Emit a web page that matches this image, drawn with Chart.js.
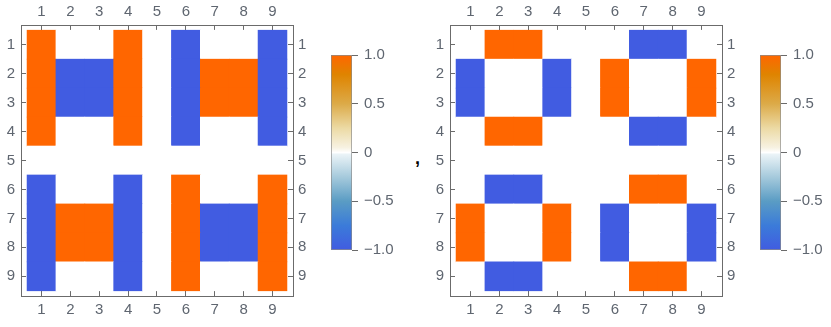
<!DOCTYPE html>
<html>
<head>
<meta charset="utf-8">
<script src="https://cdn.jsdelivr.net/npm/chart.js@4.4.1/dist/chart.umd.min.js"></script>
<style>
  html, body { margin: 0; padding: 0; background: #fff; }
  body { width: 831px; height: 327px; position: relative; overflow: hidden; }
  canvas { position: absolute; top: 0; }
  #comma { position: absolute; left: 415px; top: 148px; font: bold 18px "Liberation Sans", Arial, sans-serif; color: #000; }
</style>
</head>
<body>
<canvas id="matrixLeft" width="315" height="327" style="left:0"></canvas>
<canvas id="barLeft" width="100" height="327" style="left:315px"></canvas>
<div id="comma">,</div>
<canvas id="matrixRight" width="315" height="327" style="left:429px"></canvas>
<canvas id="barRight" width="87" height="327" style="left:744px"></canvas>

<script>
// Row / column labels of both matrices
const rowLabels = [1, 2, 3, 4, 5, 6, 7, 8, 9];
const colLabels = [1, 2, 3, 4, 5, 6, 7, 8, 9];

// Left matrix (1 = orange, -1 = blue, 0 = empty)
const matrixLeftValues = [
    [ 1,  0,  0,  1, 0, -1,  0,  0, -1],
    [ 1, -1, -1,  1, 0, -1,  1,  1, -1],
    [ 1, -1, -1,  1, 0, -1,  1,  1, -1],
    [ 1,  0,  0,  1, 0, -1,  0,  0, -1],
    [ 0,  0,  0,  0, 0,  0,  0,  0,  0],
    [-1,  0,  0, -1, 0,  1,  0,  0,  1],
    [-1,  1,  1, -1, 0,  1, -1, -1,  1],
    [-1,  1,  1, -1, 0,  1, -1, -1,  1],
    [-1,  0,  0, -1, 0,  1,  0,  0,  1]
];

// Right matrix
const matrixRightValues = [
    [ 0,  1,  1,  0, 0,  0, -1, -1,  0],
    [-1,  0,  0, -1, 0,  1,  0,  0,  1],
    [-1,  0,  0, -1, 0,  1,  0,  0,  1],
    [ 0,  1,  1,  0, 0,  0, -1, -1,  0],
    [ 0,  0,  0,  0, 0,  0,  0,  0,  0],
    [ 0, -1, -1,  0, 0,  0,  1,  1,  0],
    [ 1,  0,  0,  1, 0, -1,  0,  0, -1],
    [ 1,  0,  0,  1, 0, -1,  0,  0, -1],
    [ 0, -1, -1,  0, 0,  0,  1,  1,  0]
];

// Legend bar ticks
const legendTicks = [-1, -0.5, 0, 0.5, 1];
const legendTickLabels = ['\u22121.0', '\u22120.5', '0', '0.5', '1.0'];

// Colour function stops: value -> colour
const colorStopValues = [-1, -0.75, -0.5, -0.25, -0.02, 0, 0.05, 0.25, 0.5, 0.8, 1];
const colorStopColors = ['#415ce1', '#3b7bd9', '#5a9cc4', '#a6cadc', '#eaf3f7', '#ffffff',
                         '#f7f2e2', '#ecdaa4', '#dcaa48', '#df8400', '#ff6600'];

const FONT = '"Liberation Sans", Arial, sans-serif';
const FRAME = '#6b6b6b';
const TEXT = '#5f6670';

function hexToRgb(h) {
    return [parseInt(h.substr(1, 2), 16), parseInt(h.substr(3, 2), 16), parseInt(h.substr(5, 2), 16)];
}

function colorAt(v) {
    if (v <= colorStopValues[0]) return colorStopColors[0];
    for (let i = 1; i < colorStopValues.length; i++) {
        if (v <= colorStopValues[i]) {
            const t = (v - colorStopValues[i - 1]) / (colorStopValues[i] - colorStopValues[i - 1]);
            const a = hexToRgb(colorStopColors[i - 1]);
            const b = hexToRgb(colorStopColors[i]);
            const c = a.map((x, k) => Math.round(x + (b[k] - x) * t));
            return `rgb(${c[0]},${c[1]},${c[2]})`;
        }
    }
    return colorStopColors[colorStopColors.length - 1];
}

function buildCells(matrix) {
    const cells = [];
    rowLabels.forEach((r, i) => {
        colLabels.forEach((c, j) => {
            cells.push({ x: c, y: [r - 0.5, r + 0.5], v: matrix[i][j] });
        });
    });
    return cells;
}

function frameAxis(position, labels, min, max, size, padding, reverse) {
    return {
        type: 'linear',
        position: position,
        min: min,
        max: max,
        offset: false,
        reverse: !!reverse,
        afterBuildTicks: scale => { scale.ticks = labels.map(v => ({ value: v })); },
        afterFit: scale => {
            if (position === 'top' || position === 'bottom') scale.height = size;
            else scale.width = size;
        },
        ticks: {
            color: TEXT,
            padding: padding,
            maxRotation: 0,
            autoSkip: false,
            font: { family: FONT, size: 15 },
            callback: v => String(v)
        },
        grid: {
            display: true,
            offset: false,
            drawOnChartArea: false,
            drawTicks: true,
            tickLength: -5,
            tickColor: FRAME,
            tickWidth: 1
        },
        border: { display: true, color: FRAME, width: 1 }
    };
}

function matrixChart(id, matrix) {
    const cells = buildCells(matrix);
    return new Chart(document.getElementById(id), {
        type: 'bar',
        data: {
            datasets: [{
                data: cells,
                backgroundColor: cells.map(c => colorAt(c.v)),
                borderWidth: 0,
                barPercentage: 1,
                categoryPercentage: 1,
                xAxisID: 'x',
                yAxisID: 'y'
            }]
        },
        options: {
            responsive: false,
            animation: false,
            layout: { padding: 0 },
            plugins: { legend: { display: false }, tooltip: { enabled: false } },
            scales: {
                x: frameAxis('bottom', colLabels, 0.29, 9.71, 31, 10),
                xTop: frameAxis('top', colLabels, 0.29, 9.71, 25, 9),
                y: frameAxis('left', rowLabels, 0.32, 9.68, 21, 11, true),
                yRight: frameAxis('right', rowLabels, 0.32, 9.68, 22, 10, true)
            }
        }
    });
}

function legendChart(id, canvasWidth) {
    return new Chart(document.getElementById(id), {
        type: 'bar',
        data: {
            labels: [''],
            datasets: [{
                data: [[legendTicks[0], legendTicks[legendTicks.length - 1]]],
                backgroundColor: ctx => {
                    const chart = ctx.chart;
                    const ys = chart.scales.y;
                    if (!ys || !chart.chartArea) return colorAt(0);
                    const g = chart.ctx.createLinearGradient(0, ys.getPixelForValue(-1), 0, ys.getPixelForValue(1));
                    colorStopValues.forEach((v, i) => g.addColorStop((v + 1) / 2, colorStopColors[i]));
                    return g;
                },
                borderColor: '#8c8c8c',
                borderWidth: 1,
                borderSkipped: false,
                barPercentage: 1,
                categoryPercentage: 1
            }]
        },
        options: {
            responsive: false,
            animation: false,
            layout: { padding: { left: 16, top: 55, bottom: 77, right: 0 } },
            plugins: { legend: { display: false }, tooltip: { enabled: false } },
            scales: {
                x: { display: false },
                y: {
                    position: 'right',
                    min: -1,
                    max: 1,
                    afterBuildTicks: scale => { scale.ticks = legendTicks.map(v => ({ value: v })); },
                    afterFit: scale => { scale.width = canvasWidth - 16 - 21; },
                    ticks: {
                        color: TEXT,
                        padding: 6,
                        font: { family: FONT, size: 15 },
                        callback: (v, i) => legendTickLabels[i]
                    },
                    grid: { drawOnChartArea: false, tickLength: 6, tickColor: FRAME },
                    border: { display: false }
                }
            }
        }
    });
}

matrixChart('matrixLeft', matrixLeftValues);
legendChart('barLeft', 100);
matrixChart('matrixRight', matrixRightValues);
legendChart('barRight', 87);
</script>
</body>
</html>
